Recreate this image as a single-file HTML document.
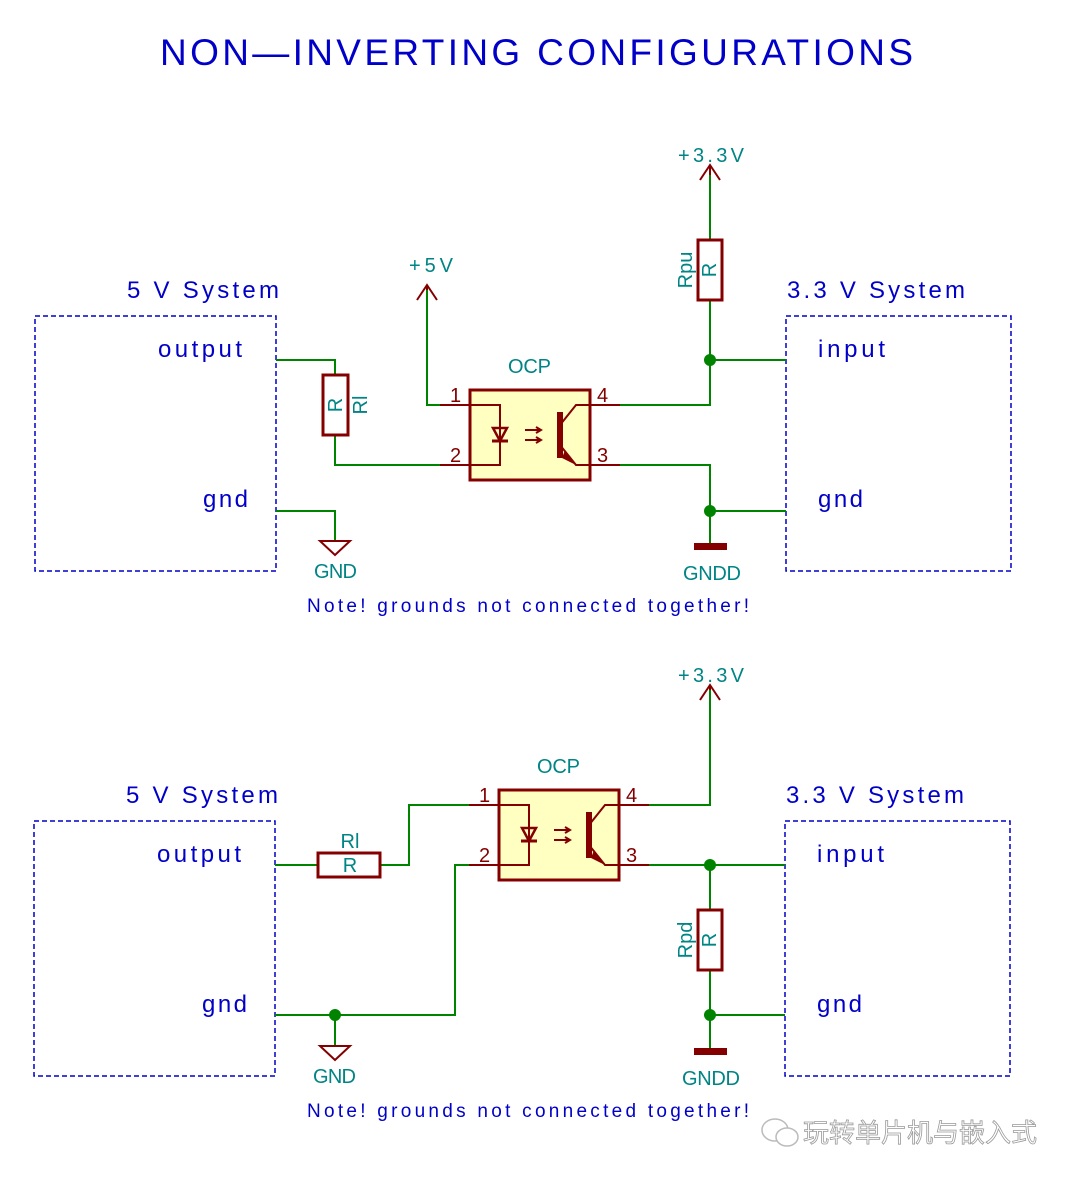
<!DOCTYPE html><html><head><style>body{margin:0;background:#fff}svg{display:block}</style></head><body>
<svg width="1072" height="1180" viewBox="0 0 1072 1180" xmlns="http://www.w3.org/2000/svg" font-family="Liberation Sans, sans-serif">
<defs>
<g id="opto">
<rect x="0" y="0" width="120" height="90" fill="#ffffc2" stroke="#840000" stroke-width="3"/>
<g stroke="#840000" stroke-width="2" fill="none">
<line x1="-30" y1="15" x2="0" y2="15"/><line x1="-30" y1="75" x2="0" y2="75"/>
<line x1="120" y1="15" x2="150" y2="15"/><line x1="120" y1="75" x2="150" y2="75"/>
<polyline points="0,15 30,15 30,75 0,75"/>
<line x1="22" y1="51" x2="38" y2="51" stroke-width="3"/>
<polygon points="23,38 37,38 30,51" stroke-width="2.5"/>
<line x1="55" y1="40" x2="70" y2="40"/><line x1="55" y1="50" x2="70" y2="50"/>
<polyline points="66,37 71,40 66,43"/><polyline points="66,47 71,50 66,53"/>
<line x1="90" y1="22" x2="90" y2="68" stroke-width="6"/>
<polyline points="120,15 106,15 90,35"/><polyline points="90,55 106,75 120,75"/>
</g>
<polygon points="95,60 106,75 92,68" fill="#840000"/>
<g fill="#840000" font-size="20"><text x="-20" y="12">1</text><text x="-20" y="72">2</text><text x="127" y="12">4</text><text x="127" y="72">3</text></g>
<text x="38" y="-17" fill="#008484" font-size="20" textLength="43">OCP</text>
</g>
</defs>
<text x="160" y="65" fill="#0000c8" font-size="37" textLength="753">NON—INVERTING CONFIGURATIONS</text>
<g fill="none" stroke="#0000c8" stroke-width="1.5" stroke-dasharray="5,3">
<rect x="35" y="316" width="241" height="255"/><rect x="786" y="316" width="225" height="255"/>
<rect x="34" y="821" width="241" height="255"/><rect x="785" y="821" width="225" height="255"/>
</g>
<g fill="#0000c8" font-size="24">
<text x="127" y="298" textLength="152">5 V System</text><text x="787" y="298" textLength="178">3.3 V System</text>
<text x="158" y="357" textLength="84">output</text><text x="203" y="507" textLength="45">gnd</text>
<text x="818" y="357" textLength="67">input</text><text x="818" y="507" textLength="45">gnd</text>
<text x="126" y="803" textLength="152">5 V System</text><text x="786" y="803" textLength="178">3.3 V System</text>
<text x="157" y="862" textLength="84">output</text><text x="202" y="1012" textLength="45">gnd</text>
<text x="817" y="862" textLength="67">input</text><text x="817" y="1012" textLength="45">gnd</text>
</g>
<g fill="#0000c8" font-size="19">
<text x="307" y="612" textLength="442">Note! grounds not connected together!</text>
<text x="307" y="1117" textLength="442">Note! grounds not connected together!</text>
</g>
<g stroke="#008400" stroke-width="2" fill="none">
<polyline points="276,360 335,360 335,375"/><polyline points="335,435 335,465 440,465"/>
<polyline points="427,290 427,405 440,405"/>
<polyline points="620,405 710,405 710,300"/><line x1="710" y1="240" x2="710" y2="175"/>
<line x1="710" y1="360" x2="786" y2="360"/>
<polyline points="620,465 710,465 710,545"/><line x1="710" y1="511" x2="786" y2="511"/>
<polyline points="276,511 335,511 335,540"/>
<line x1="275" y1="865" x2="318" y2="865"/><polyline points="380,865 409,865 409,805 470,805"/>
<polyline points="470,865 455,865 455,1015 275,1015"/><line x1="335" y1="1015" x2="335" y2="1045"/>
<polyline points="649,805 710,805 710,690"/>
<line x1="649" y1="865" x2="785" y2="865"/><line x1="710" y1="865" x2="710" y2="910"/>
<polyline points="710,970 710,1050"/><line x1="710" y1="1015" x2="785" y2="1015"/>
</g>
<g fill="#008400"><circle cx="710" cy="360" r="6"/><circle cx="710" cy="511" r="6"/><circle cx="335" cy="1015" r="6"/><circle cx="710" cy="865" r="6"/><circle cx="710" cy="1015" r="6"/></g>
<use href="#opto" x="470" y="390"/>
<use href="#opto" x="499" y="790"/>
<g stroke="#840000" stroke-width="2" fill="none">
<rect x="323" y="375" width="25" height="60" stroke-width="3"/>
<rect x="698" y="240" width="24" height="60" stroke-width="3"/>
<rect x="318" y="853" width="62" height="24" stroke-width="3"/>
<rect x="698" y="910" width="24" height="60" stroke-width="3"/>
<polyline points="417,300 427,285 437,300"/><line x1="427" y1="285" x2="427" y2="290"/>
<polyline points="700,180 710,165 720,180"/><line x1="710" y1="165" x2="710" y2="175"/>
<polyline points="700,700 710,685 720,700"/><line x1="710" y1="685" x2="710" y2="690"/>
<polygon points="320,541 350,541 335,555"/><polygon points="320,1046 350,1046 335,1060"/>
</g>
<g fill="#840000"><rect x="694" y="543" width="33" height="7"/><rect x="694" y="1048" width="33" height="7"/></g>
<g fill="#008484" font-size="20">
<text x="409" y="272" textLength="44">+5V</text><text x="678" y="162" textLength="66">+3.3V</text><text x="678" y="682" textLength="66">+3.3V</text>
<text x="314" y="578" textLength="43">GND</text><text x="683" y="580" textLength="58">GNDD</text>
<text x="313" y="1083" textLength="43">GND</text><text x="682" y="1085" textLength="58">GNDD</text>
<g text-anchor="middle">
<text x="350" y="848">Rl</text><text x="350" y="872">R</text>
<text transform="translate(342,405) rotate(-90)">R</text>
<text transform="translate(367,405) rotate(-90)">Rl</text>
<text transform="translate(716,270) rotate(-90)">R</text>
<text transform="translate(692,270) rotate(-90)">Rpu</text>
<text transform="translate(716,940) rotate(-90)">R</text>
<text transform="translate(692,940) rotate(-90)">Rpd</text>
</g>
</g>
<g stroke="#bbb" stroke-width="1.5" fill="#fff"><ellipse cx="775" cy="1130" rx="13" ry="11"/><ellipse cx="787" cy="1137" rx="11" ry="9"/></g>
<text x="803" y="1142" fill="#fff" stroke="#999" stroke-width="0.8" font-size="26" font-family="Liberation Sans, Noto Sans CJK SC, sans-serif">玩转单片机与嵌入式</text>
</svg>
</body></html>
